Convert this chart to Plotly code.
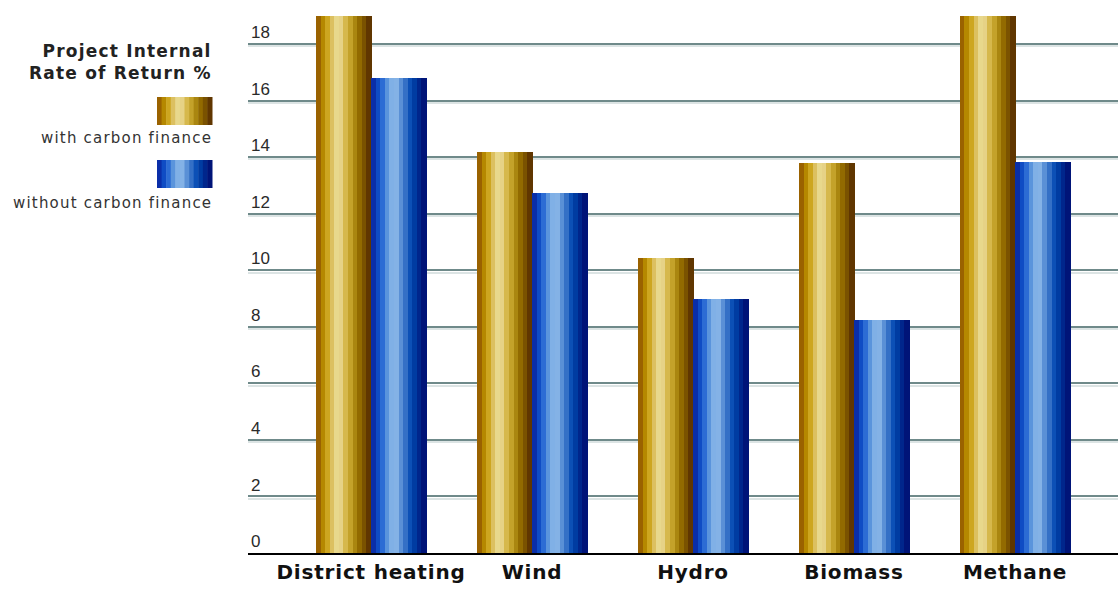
import plotly.graph_objects as go

# ---- data ----
categories = ["District heating", "Wind", "Hydro", "Biomass", "Methane"]
with_cf = [19.0, 14.2, 10.45, 13.8, 19.0]
without_cf = [16.8, 12.75, 9.0, 8.25, 13.85]
series_names = ["with carbon finance", "without carbon finance"]
y_ticks = [0, 2, 4, 6, 8, 10, 12, 14, 16, 18]

# stripe colours to imitate the cylindrical gradient
gold = ["#9a6200", "#b58800", "#cda620", "#dcc060", "#e8d88c", "#e6d286",
        "#d6b84c", "#c4a22a", "#aa8610", "#926a00", "#7a5200", "#603600"]
blue = ["#0a2ea8", "#0f4cc4", "#2c6cd4", "#5a94dc", "#80b0e6", "#84b2e6",
        "#5a90d6", "#3470c6", "#0c50b6", "#003ca2", "#00268c", "#001478"]

W, H = 1118, 592
L, B = 248, 39
plot_w, plot_h = W - L, H - B
px_per_unit = 28.26
ymax = plot_h / px_per_unit
bar_w = 0.342

fig = go.Figure()
N = len(gold)
for s, (vals, cols) in enumerate([(with_cf, gold), (without_cf, blue)]):
    base_off = -bar_w if s == 0 else 0.0
    for k, c in enumerate(cols):
        fig.add_trace(go.Bar(
            x=categories, y=vals, width=bar_w / N + 0.004,
            offset=base_off + k * bar_w / N,
            marker=dict(color=c, line=dict(width=0)),
            showlegend=False, hoverinfo="skip", name=series_names[s]))

# invisible trace for shadow gridlines axis
fig.add_trace(go.Scatter(x=[categories[0]], y=[0], yaxis="y2", mode="markers",
                         marker=dict(opacity=0), showlegend=False, hoverinfo="skip"))

def xp(px):
    return (px - L) / plot_w

def yp(py):
    return (plot_h - py) / plot_h

shapes = []
for cols, (y0, y1) in [(gold, (97, 125)), (blue, (160, 188))]:
    x0, x1 = 157, 212
    sw = (x1 - x0) / N
    for k, c in enumerate(cols):
        shapes.append(dict(type="rect", xref="paper", yref="paper",
                           x0=xp(x0 + k * sw), x1=xp(x0 + (k + 1) * sw + 0.5),
                           y0=yp(y1), y1=yp(y0), fillcolor=c, line=dict(width=0),
                           layer="above"))

ann_font = dict(family="DejaVu Sans", size=15, color="#333333")
annotations = [
    dict(xref="paper", yref="paper", x=xp(214), y=yp(62), xanchor="right", yanchor="middle",
         align="right", showarrow=False,
         text="<b><span style='letter-spacing:1.2px'>Project Internal</span></b><br><b><span style='letter-spacing:1.2px'>Rate of Return %</span></b>",
         font=dict(family="DejaVu Sans", size=17, color="#222222")),
    dict(xref="paper", yref="paper", x=xp(214), y=yp(138), xanchor="right", yanchor="middle",
         showarrow=False, text="<span style='letter-spacing:1.2px'>with carbon finance</span>", font=ann_font),
    dict(xref="paper", yref="paper", x=xp(214), y=yp(203), xanchor="right", yanchor="middle",
         showarrow=False, text="<span style='letter-spacing:1.2px'>without carbon finance</span>", font=ann_font),
]

tick_text = ["<span style='letter-spacing:0.8px'>%s</span>" % c for c in categories]

fig.update_layout(
    width=W, height=H,
    margin=dict(l=L, r=0, t=0, b=B),
    paper_bgcolor="white", plot_bgcolor="white",
    barmode="overlay", bargap=0,
    showlegend=False,
    shapes=shapes, annotations=annotations,
    xaxis=dict(range=[-0.764, 4.64], showgrid=False, showline=True,
               linecolor="black", linewidth=2, ticks="",
               tickmode="array", tickvals=categories, ticktext=tick_text,
               tickfont=dict(family="DejaVu Sans", size=20, color="#111111", weight="bold")),
    yaxis=dict(range=[0, ymax], tickvals=y_ticks, showgrid=True,
               gridcolor="#6f8a8a", gridwidth=2, zeroline=False,
               ticklabelposition="inside top", ticks="",
               tickfont=dict(family="Liberation Sans", size=17, color="#2a2a2a")),
    yaxis2=dict(range=[0.075, ymax + 0.075], overlaying="y", tickvals=y_ticks,
                showgrid=True, gridcolor="#dce4e4", gridwidth=2, zeroline=False,
                showticklabels=False, ticks=""),
)

fig.write_html("out.html")
